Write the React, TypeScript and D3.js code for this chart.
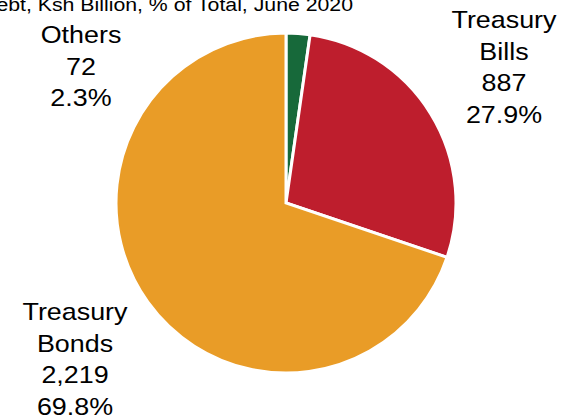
import { useMemo } from "react";
import * as d3 from "d3";

const W = 562;
const H = 419;

const categories = ["Others", "Treasury Bills", "Treasury Bonds"];
const values = [72, 887, 2219];
const valueLabels = ["72", "887", "2,219"];
const colors = ["#17693A", "#BE1E2D", "#E99C27"];
const title = "Domestic Debt, Ksh Billion, % of Total, June 2020";

// label block anchors (center x, first baseline y)
const labelPos = [
  { x: 81, y: 43, lines: ["Others"] },
  { x: 504, y: 28, lines: ["Treasury", "Bills"] },
  { x: 75, y: 320, lines: ["Treasury", "Bonds"] },
];
const LINE_H = 31.5;
const STRETCH = 1.12;

export default function App() {
  const cx = 286;
  const cy = 203;
  const r = 170;

  const arcs = useMemo(() => {
    const pie = d3
      .pie<number>()
      .sort(null)
      .value((d) => d);
    return pie(values);
  }, []);

  const arc = d3.arc<d3.PieArcDatum<number>>().innerRadius(0).outerRadius(r);
  const total = d3.sum(values);
  const fmtPct = d3.format(".1f");

  return (
    <svg
      width={W}
      height={H}
      style={{ position: "fixed", left: 0, top: 0, background: "#fff" }}
      fontFamily="'Liberation Sans', Arial, sans-serif"
    >
      <g transform={`translate(353,11) scale(${STRETCH},1)`}>
        <text textAnchor="end" fontSize={19} fill="#000">
          {title}
        </text>
      </g>

      <g transform={`translate(${cx},${cy})`}>
        {arcs.map((a, i) => (
          <path key={categories[i]} d={arc(a) ?? undefined} fill={colors[i]} stroke="#fff" strokeWidth={3} strokeLinejoin="miter" />
        ))}
      </g>

      {labelPos.map((lp, i) => {
        const lines = [...lp.lines, valueLabels[i], `${fmtPct((values[i] / total) * 100)}%`];
        return (
          <g key={categories[i]}>
            {lines.map((t, j) => (
              <g key={j} transform={`translate(${lp.x},${lp.y + j * LINE_H}) scale(${STRETCH},1)`}>
                <text textAnchor="middle" fontSize={24} fill="#000">
                  {t}
                </text>
              </g>
            ))}
          </g>
        );
      })}
    </svg>
  );
}
